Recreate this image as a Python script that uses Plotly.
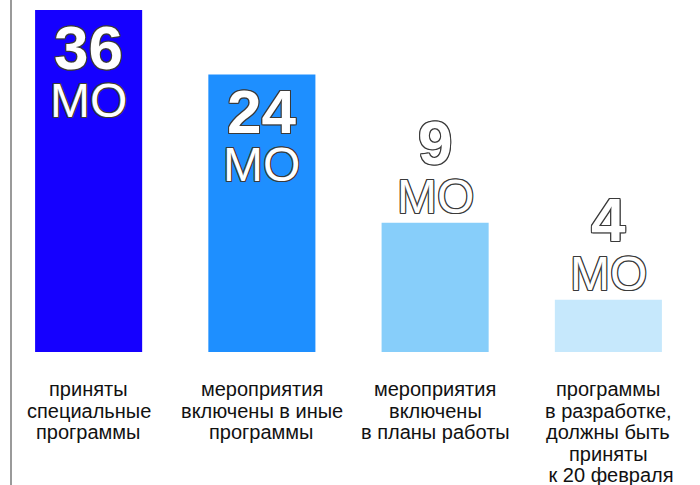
import plotly.graph_objects as go

# ---- data ----
categories = [
    "приняты специальные программы",
    "мероприятия включены в иные программы",
    "мероприятия включены в планы работы",
    "программы в разработке, должны быть приняты к 20 февраля",
]
label_lines = [
    ["приняты", "специальные", "программы"],
    ["мероприятия", "включены в иные", "программы"],
    ["мероприятия", "включены", "в планы работы"],
    ["программы", "в разработке,", "должны быть", "приняты", "\u00a0к 20 февраля"],
]
counts = [36, 24, 9, 4]                 # numbers written on the chart
bar_heights = [36, 29.2, 13.6, 5.5]     # drawn bar heights (not proportional to counts)
unit_label = "МО"
colors = ["#1500FF", "#1E8FFF", "#87CEFA", "#C6E8FC"]

FONT = "Liberation Sans, Arial, sans-serif"
OUTLINE = "-1px -1px 0 #3a3a3a, 1px -1px 0 #3a3a3a, -1px 1px 0 #3a3a3a, 1px 1px 0 #3a3a3a, 0 1px 0 #3a3a3a, 0 -1px 0 #3a3a3a, 1px 0 0 #3a3a3a, -1px 0 0 #3a3a3a"

fig = go.Figure(
    go.Bar(
        x=categories,
        y=bar_heights,
        marker=dict(color=colors, line=dict(width=0)),
        hoverinfo="skip",
    )
)

annotations = []
for cat, h, n, lines in zip(categories, bar_heights, counts, label_lines):
    inside = h > 20
    num_shift = -37 if inside else 80
    mo_shift = -90 if inside else 26
    annotations.append(dict(
        x=cat, y=h, xref="x", yref="y", text=str(n), showarrow=False,
        yanchor="middle", yshift=num_shift,
        font=dict(family=FONT, size=62, color="white", weight=700, shadow=OUTLINE),
    ))
    annotations.append(dict(
        x=cat, y=h, xref="x", yref="y", text=unit_label, showarrow=False,
        yanchor="middle", yshift=mo_shift,
        font=dict(family=FONT, size=48, color="white", shadow=OUTLINE),
    ))
    for j, line in enumerate(lines):
        annotations.append(dict(
            x=cat, y=0, xref="x", yref="y", text=line, showarrow=False,
            yanchor="middle", yshift=-37 - 21.5 * j,
            font=dict(family=FONT, size=20, color="#111111"),
        ))

fig.update_layout(
    width=700, height=485,
    margin=dict(l=2, r=5, t=10, b=133),
    paper_bgcolor="white", plot_bgcolor="white",
    bargap=0.382,
    showlegend=False,
    annotations=annotations,
    shapes=[dict(
        type="line", xref="paper", yref="paper",
        x0=9 / 693, x1=9 / 693, y0=-133 / 342, y1=1 + 10 / 342,
        line=dict(color="#9a9a9a", width=2),
    )],
    xaxis=dict(showticklabels=False, showline=False, ticks="", showgrid=False, zeroline=False,
               range=[-0.5, 3.5]),
    yaxis=dict(visible=False, range=[0, 36], showgrid=False, zeroline=False),
)

fig.write_html(
    "out.html",
    config={"displayModeBar": False},
    post_script="document.body.style.margin='0';document.body.style.overflow='hidden';",
)
